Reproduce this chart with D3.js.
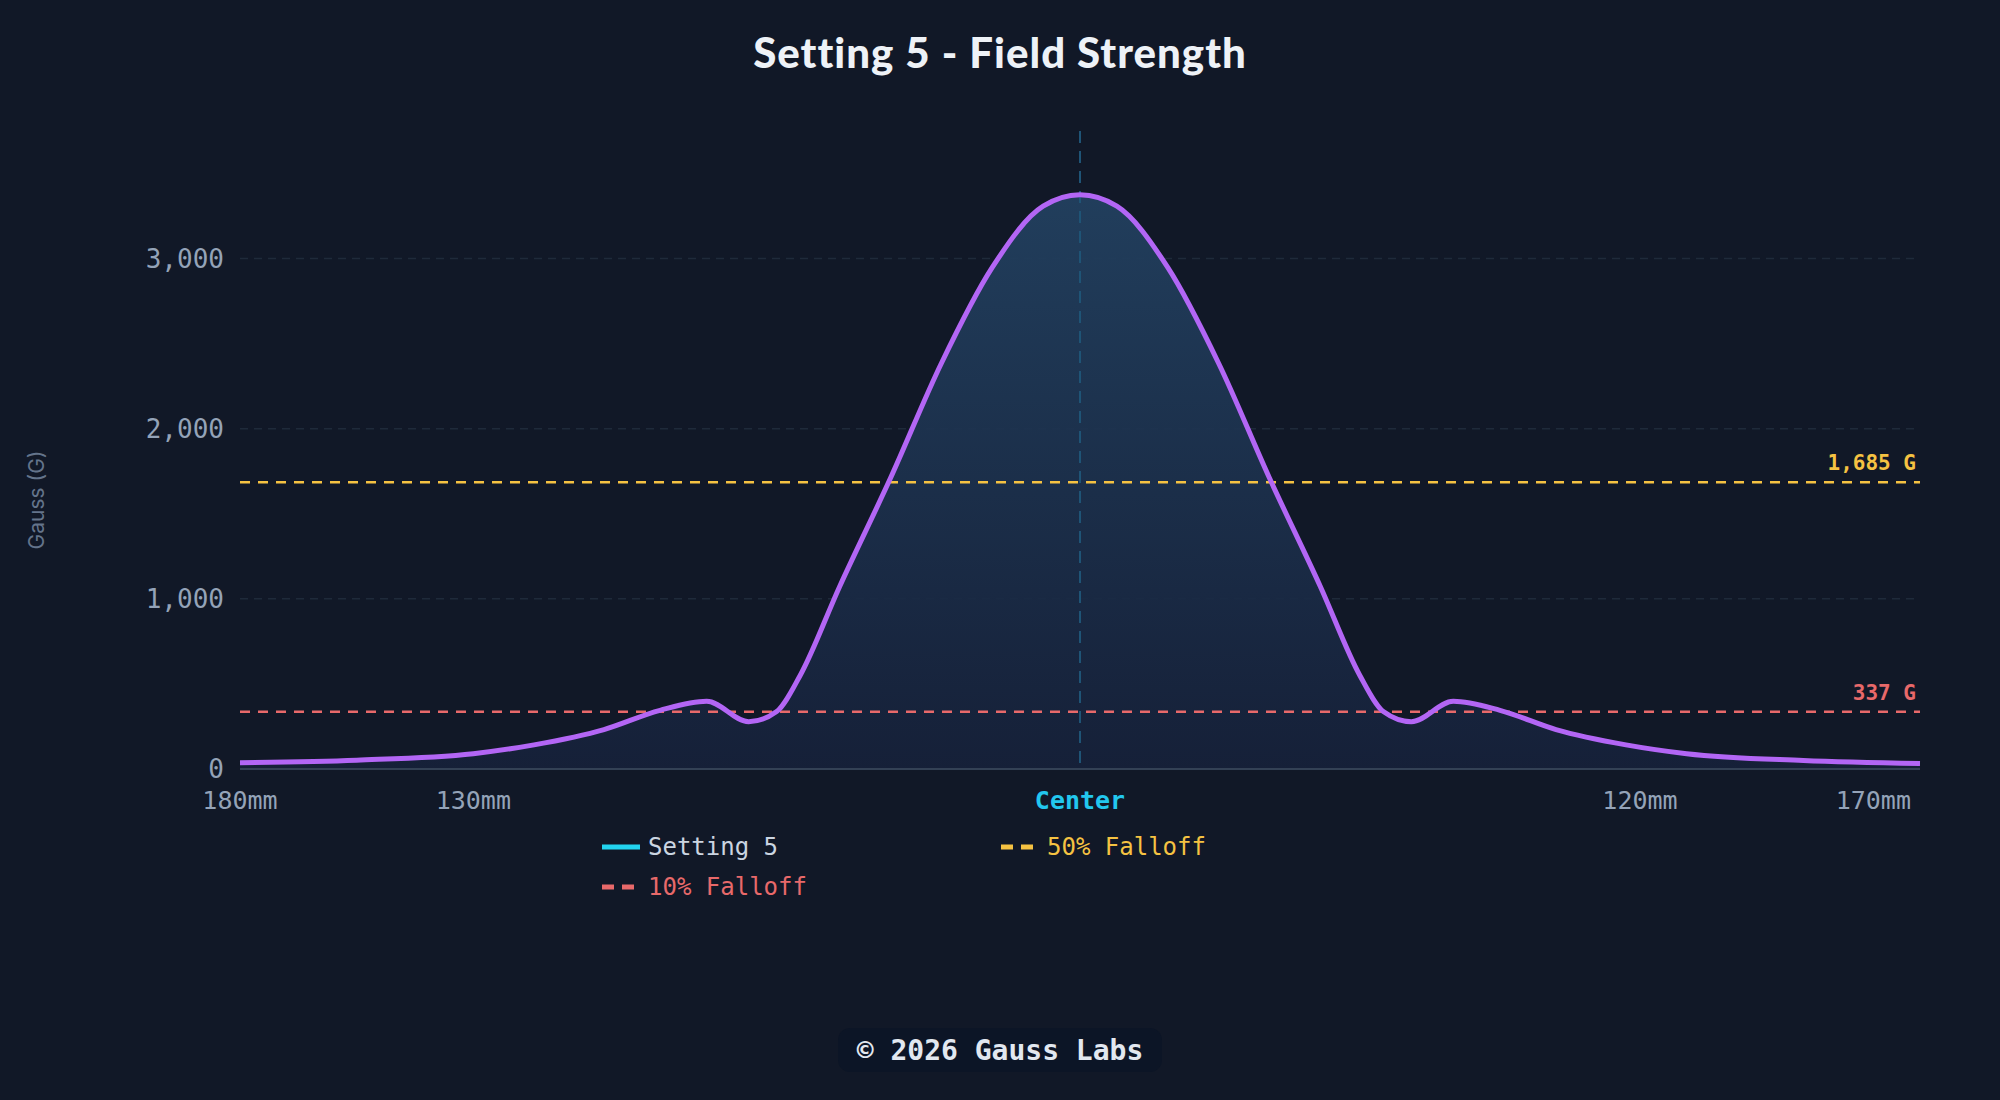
<!DOCTYPE html>
<html>
<head>
<meta charset="utf-8">
<script src="https://cdn.jsdelivr.net/npm/d3@7.9.0/dist/d3.min.js"></script>
<style>
  body { margin: 0; background: #111827; }
  svg { display: block; }
</style>
</head>
<body>
<svg id="chart" width="2000" height="1100"></svg>
<script>
// Data (position in mm, field in gauss)
const positions = [-180, -155, -130, -117, -102, -90, -80, -71, -65, -60, -51.5, -40.6, -29.7, -18.8, -7.9, 0,
  7.9, 18.8, 29.7, 40.6, 51.5, 60, 65, 71, 80, 90, 102, 117, 130, 155, 180];
const gauss = [37, 52, 90, 142, 232, 345, 398, 278, 338, 548, 1073, 1710, 2385, 2948, 3308, 3375,
  3308, 2948, 2385, 1710, 1073, 548, 338, 278, 398, 345, 232, 142, 90, 50, 32];
const tickValues = [-180, -130, 0, 120, 170];
const tickLabels = ['180mm', '130mm', 'Center', '120mm', '170mm'];
const yTicks = [0, 1000, 2000, 3000];
const thresholds = [
  { name: '50% Falloff', value: 1685, color: '#f5c242' },
  { name: '10% Falloff', value: 337, color: '#e8696a' }
];
const seriesName = 'Setting 5';

const svg = d3.select('#chart');
const margin = { left: 240, right: 80, top: 131, bottom: 331 };
const width = 2000, height = 1100;

const x = d3.scaleLinear().domain([-180, 180]).range([margin.left, width - margin.right]);
const y = d3.scaleLinear().domain([0, 3750]).range([height - margin.bottom, margin.top]);

const data = positions.map((p, i) => ({ p, g: gauss[i] }));

// Gradient for area
const defs = svg.append('defs');
const grad = defs.append('linearGradient').attr('id', 'fill').attr('x1', 0).attr('y1', 0).attr('x2', 0).attr('y2', 1);
grad.append('stop').attr('offset', '0%').attr('stop-color', '#22405f').attr('stop-opacity', 0.95);
grad.append('stop').attr('offset', '100%').attr('stop-color', '#16213a').attr('stop-opacity', 0.9);

// Title
svg.append('text')
  .attr('x', 1000).attr('y', 68)
  .attr('text-anchor', 'middle')
  .attr('fill', '#eef2f7')
  .attr('font-family', 'Lato, Inter, sans-serif')
  .attr('font-weight', 900)
  .attr('font-size', 42)
  .attr('letter-spacing', 1)
  .text('Setting 5 - Field Strength');

// Grid lines
svg.append('g').selectAll('line').data(yTicks.filter(d => d > 0)).join('line')
  .attr('x1', x(-180)).attr('x2', x(180))
  .attr('y1', d => y(d)).attr('y2', d => y(d))
  .attr('stroke', '#1f2a3a').attr('stroke-dasharray', '8,6').attr('stroke-width', 1.5);

// Y tick labels
svg.append('g').selectAll('text').data(yTicks).join('text')
  .attr('x', margin.left - 16).attr('y', d => y(d))
  .attr('dy', '0.35em')
  .attr('text-anchor', 'end')
  .attr('fill', '#94a3b8')
  .attr('font-family', '"DejaVu Sans Mono", monospace')
  .attr('font-size', 26)
  .text(d => d3.format(',')(d));

// Y axis title
svg.append('text')
  .attr('transform', `translate(44, ${(margin.top + height - margin.bottom) / 2 + 50}) rotate(-90)`)
  .attr('text-anchor', 'middle')
  .attr('fill', '#64748b')
  .attr('font-family', 'Inter, sans-serif')
  .attr('font-size', 21)
  .text('Gauss (G)');

// Area and line
const curve = d3.curveMonotoneX;
svg.append('path').datum(data)
  .attr('d', d3.area().x(d => x(d.p)).y0(y(0)).y1(d => y(d.g)).curve(curve))
  .attr('fill', 'url(#fill)');

// Center line
svg.append('line')
  .attr('x1', x(0)).attr('x2', x(0))
  .attr('y1', margin.top).attr('y2', y(0))
  .attr('stroke', '#1f5476').attr('stroke-width', 2).attr('stroke-dasharray', '12,8');

// Baseline
svg.append('line')
  .attr('x1', x(-180)).attr('x2', x(180))
  .attr('y1', y(0)).attr('y2', y(0))
  .attr('stroke', '#334155').attr('stroke-width', 2);

// Threshold lines
thresholds.forEach(t => {
  svg.append('line')
    .attr('x1', x(-180)).attr('x2', x(180))
    .attr('y1', y(t.value)).attr('y2', y(t.value))
    .attr('stroke', t.color).attr('stroke-width', 2.5).attr('stroke-dasharray', '10,8');
  svg.append('text')
    .attr('x', x(180) - 4).attr('y', y(t.value) - 12)
    .attr('text-anchor', 'end')
    .attr('fill', t.color)
    .attr('font-family', '"DejaVu Sans Mono", monospace')
    .attr('font-weight', 'bold')
    .attr('font-size', 21)
    .text(d3.format(',')(t.value) + ' G');
});

svg.append('path').datum(data)
  .attr('d', d3.line().x(d => x(d.p)).y(d => y(d.g)).curve(curve))
  .attr('fill', 'none')
  .attr('stroke', '#b366f5')
  .attr('stroke-width', 5);

// X tick labels
svg.append('g').selectAll('text').data(tickValues).join('text')
  .attr('x', d => Math.min(x(d), x(180) - 40))
  .attr('y', y(0) + 40)
  .attr('text-anchor', 'middle')
  .attr('fill', (d, i) => tickLabels[i] === 'Center' ? '#22c7ee' : '#94a3b8')
  .attr('font-weight', (d, i) => tickLabels[i] === 'Center' ? 'bold' : 'normal')
  .attr('font-family', '"DejaVu Sans Mono", monospace')
  .attr('font-size', 25)
  .text((d, i) => tickLabels[i]);

// Legend
const legendItems = [
  { name: seriesName, color: '#22d3ee', dash: null, text: '#cbd5e1', x: 602, y: 847 },
  { name: thresholds[0].name, color: thresholds[0].color, dash: '12,8', text: thresholds[0].color, x: 1001, y: 847 },
  { name: thresholds[1].name, color: thresholds[1].color, dash: '12,8', text: thresholds[1].color, x: 602, y: 887 }
];
legendItems.forEach(l => {
  const g = svg.append('g').attr('transform', `translate(${l.x}, ${l.y})`);
  g.append('line').attr('x1', 0).attr('x2', 38).attr('y1', 0).attr('y2', 0)
    .attr('stroke', l.color).attr('stroke-width', 5)
    .attr('stroke-dasharray', l.dash);
  g.append('text').attr('x', 46).attr('dy', '0.35em')
    .attr('fill', l.text)
    .attr('font-family', '"DejaVu Sans Mono", monospace')
    .attr('font-size', 24)
    .text(l.name);
});

// Footer badge
svg.append('rect')
  .attr('x', 838).attr('y', 1028).attr('width', 324).attr('height', 44).attr('rx', 12)
  .attr('fill', '#0c1526');
svg.append('text')
  .attr('x', 1000).attr('y', 1050).attr('dy', '0.35em')
  .attr('text-anchor', 'middle')
  .attr('fill', '#e2e8f0')
  .attr('font-family', '"DejaVu Sans Mono", monospace')
  .attr('font-weight', 'bold')
  .attr('font-size', 28)
  .text('© 2026 Gauss Labs');
</script>
</body>
</html>
